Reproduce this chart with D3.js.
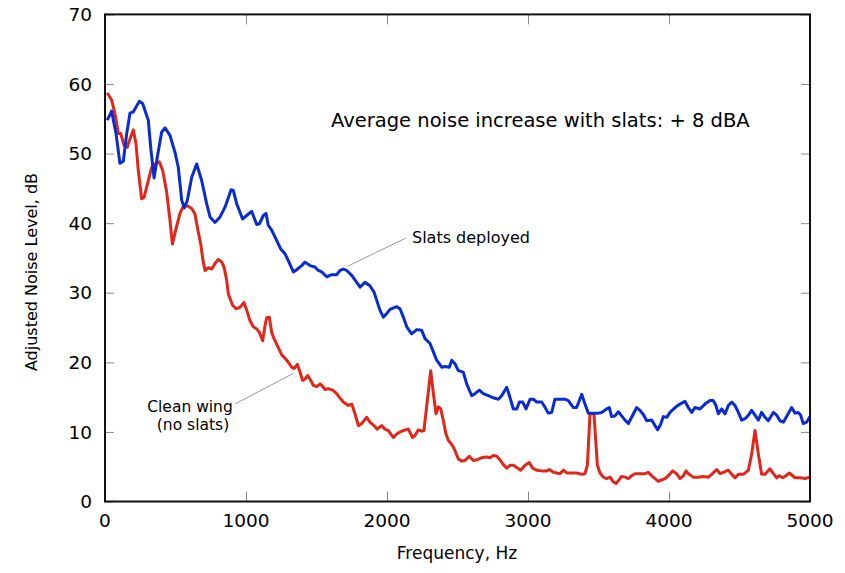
<!DOCTYPE html>
<html><head><meta charset="utf-8">
<script src="https://cdn.jsdelivr.net/npm/d3@7"></script>
<style>body{margin:0;background:#fff}svg{display:block}text{font-family:"DejaVu Sans",sans-serif;fill:#000}</style>
</head><body><svg id="c" width="845" height="573"></svg>
<script>
const xTicks=[0,1000,2000,3000,4000,5000];
const yTicks=[0,10,20,30,40,50,60,70];
const slatsFreq=[16,47,78,106,130,154,177,201,243,267,307,324,348,371,402,426,461,496,520,544,563,584,615,650,686,721,745,780,816,851,894,910,934,976,1005,1040,1076,1095,1123,1142,1158,1182,1218,1246,1277,1300,1336,1359,1395,1418,1454,1489,1513,1537,1572,1608,1643,1667,1690,1714,1750,1785,1809,1844,1879,1908,1927,1950,1974,1998,2021,2069,2092,2116,2140,2175,2211,2246,2270,2305,2329,2352,2388,2411,2442,2459,2482,2506,2541,2565,2601,2624,2655,2683,2719,2754,2790,2813,2849,2861,2896,2920,2939,2962,2986,3014,3038,3061,3097,3113,3144,3168,3191,3227,3262,3286,3322,3345,3381,3404,3428,3463,3499,3522,3558,3577,3593,3617,3641,3664,3688,3712,3735,3771,3794,3818,3842,3877,3901,3920,3941,3960,3984,4007,4043,4078,4113,4137,4161,4184,4220,4255,4291,4314,4333,4350,4374,4397,4421,4445,4468,4492,4515,4539,4563,4586,4610,4634,4657,4681,4704,4740,4764,4787,4811,4839,4870,4894,4917,4934,4952,4976,5000];
const slatsDb=[54.8,56.1,52.9,48.6,48.9,52.9,55.8,56.0,57.5,57.2,54.8,50.9,46.5,49.5,53.1,53.7,52.6,50.2,48.0,43.3,42.2,43.3,46.6,48.5,46.1,42.8,40.9,40.1,40.9,42.3,44.8,44.7,42.8,40.6,41.1,41.7,39.8,39.9,41.1,41.4,39.7,39.0,37.5,36.3,35.6,34.6,33.0,33.3,33.9,34.4,33.9,33.7,33.2,33.0,32.3,32.6,32.6,33.2,33.4,33.2,32.5,31.5,30.8,31.5,31.0,30.1,28.9,27.5,26.5,27.0,27.6,28.0,27.7,26.5,25.1,24.1,24.7,24.6,23.4,22.7,21.5,20.3,19.3,19.4,19.3,20.3,19.8,18.8,18.6,16.9,15.2,15.5,16.0,15.5,15.2,14.9,14.7,15.2,16.4,15.7,13.3,13.3,14.3,14.3,13.3,14.7,14.7,14.3,14.3,13.8,12.7,12.8,14.7,14.7,14.7,14.5,13.5,13.5,15.4,14.0,12.7,12.7,12.7,12.8,13.3,13.5,12.2,12.3,12.9,12.3,11.7,11.2,12.1,13.5,13.1,12.5,11.6,11.7,10.9,10.3,11.1,12.2,12.1,12.8,13.5,14.0,14.4,13.5,12.8,13.5,13.3,14.0,14.5,14.5,13.8,12.6,13.3,12.6,13.8,14.3,13.8,12.8,11.7,11.9,12.4,13.1,12.4,11.7,12.8,12.1,11.6,12.8,12.4,11.6,11.4,12.4,13.5,12.7,12.8,12.4,11.2,11.4,12.2];
const cleanFreq=[16,47,71,95,111,135,158,177,201,220,236,260,277,307,331,355,385,409,437,461,478,504,532,555,584,615,638,662,679,693,709,733,757,780,804,828,844,863,875,905,929,957,986,1005,1028,1052,1076,1095,1118,1135,1147,1165,1182,1199,1222,1253,1289,1324,1340,1364,1383,1402,1418,1437,1459,1477,1501,1525,1537,1560,1584,1615,1643,1662,1690,1726,1750,1773,1797,1821,1856,1879,1908,1931,1962,1986,2009,2045,2069,2092,2116,2151,2182,2199,2222,2246,2262,2281,2310,2329,2348,2364,2381,2400,2418,2435,2466,2482,2506,2530,2553,2584,2612,2641,2671,2707,2730,2754,2778,2801,2825,2849,2872,2896,2920,2948,2979,3009,3033,3061,3097,3133,3151,3180,3204,3227,3251,3274,3298,3322,3345,3381,3404,3421,3440,3468,3492,3511,3534,3558,3582,3605,3624,3641,3664,3688,3712,3735,3759,3794,3830,3853,3877,3901,3924,3948,3972,3995,4026,4054,4078,4102,4121,4137,4172,4208,4243,4279,4303,4338,4362,4385,4421,4445,4468,4492,4527,4563,4586,4610,4634,4657,4681,4716,4740,4764,4782,4806,4830,4853,4877,4894,4929,4965,5000];
const cleanDb=[58.7,57.7,55.7,52.9,52.9,51.2,50.9,52.1,53.4,51.4,47.6,43.5,43.7,46.1,48.0,48.5,48.8,47.6,44.5,40.4,37.0,39.2,41.4,42.4,42.5,42.1,41.3,38.7,37.0,34.9,33.2,33.6,33.4,34.2,34.8,34.4,33.7,31.8,29.8,28.2,27.7,27.9,28.6,27.5,26.0,25.1,24.8,24.3,23.1,25.3,26.4,26.5,24.3,23.4,22.4,21.1,20.3,19.3,19.1,19.7,18.6,17.4,17.6,18.1,17.4,16.7,16.5,16.9,16.7,16.1,16.2,16.0,15.5,15.0,14.3,13.8,14.0,12.6,10.9,11.2,12.1,11.4,10.9,10.4,10.9,10.4,10.2,9.2,9.7,10.0,10.2,10.4,9.2,9.5,10.3,10.1,10.2,13.6,18.8,15.5,12.6,13.6,13.3,11.6,9.7,8.8,8.0,7.3,6.1,5.8,5.9,6.5,5.9,6.0,6.3,6.4,6.3,6.6,6.5,6.0,5.3,4.8,5.2,5.2,4.9,4.5,5.2,5.6,4.8,4.5,4.4,4.4,4.6,4.2,4.1,4.0,4.5,4.1,4.1,4.1,4.1,3.9,4.0,5.2,12.6,12.6,5.2,4.1,3.5,3.3,3.5,2.8,2.6,3.0,3.6,3.5,3.3,3.7,4.0,4.0,4.0,4.2,3.7,3.3,2.9,3.1,3.3,3.7,4.4,4.0,3.3,3.7,4.4,4.0,3.5,3.5,3.6,3.5,3.9,4.6,4.0,4.2,4.5,3.9,3.4,3.9,3.9,4.5,6.8,10.2,6.8,3.9,3.9,4.7,4.0,3.4,3.7,3.4,3.7,4.1,3.7,3.4,3.4,3.3,3.5];
const titleText="Average noise increase with slats: + 8 dBA";
const xTitle="Frequency, Hz", yTitle="Adjusted Noise Level, dB";
const labelSlats="Slats deployed", labelClean=["Clean wing","(no slats)"];

const svg=d3.select("#c");
const L=105,R=810,T=14.4,B=501.5;
const x=d3.scaleLinear().domain([0,5000]).range([L,R]);
const y=d3.scaleLinear().domain([0,70]).range([B,T]);

// ticks (inward)
const g=svg.append("g");
g.append("g").attr("transform",`translate(0,${B})`).call(d3.axisBottom(x).tickValues(xTicks).tickSizeInner(-10).tickSizeOuter(0).tickFormat(""))
 .call(a=>{a.select(".domain").remove();a.selectAll("line").attr("stroke","#8a8a8a");});
g.append("g").attr("transform",`translate(0,${T})`).call(d3.axisTop(x).tickValues(xTicks).tickSizeInner(-10).tickSizeOuter(0).tickFormat(""))
 .call(a=>{a.select(".domain").remove();a.selectAll("line").attr("stroke","#8a8a8a");});
g.append("g").attr("transform",`translate(${L},0)`).call(d3.axisLeft(y).tickValues(yTicks).tickSizeInner(-9).tickSizeOuter(0).tickFormat(""))
 .call(a=>{a.select(".domain").remove();a.selectAll("line").attr("stroke","#8a8a8a");});
g.append("g").attr("transform",`translate(${R},0)`).call(d3.axisRight(y).tickValues(yTicks).tickSizeInner(-9).tickSizeOuter(0).tickFormat(""))
 .call(a=>{a.select(".domain").remove();a.selectAll("line").attr("stroke","#8a8a8a");});

// tick labels
svg.append("g").selectAll("text").data(xTicks).join("text")
 .attr("x",d=>x(d)).attr("y",527).attr("text-anchor","middle").attr("font-size",18.5).text(d=>d);
svg.append("g").selectAll("text").data(yTicks).join("text")
 .attr("x",92).attr("y",d=>y(d)).attr("dy","0.36em").attr("text-anchor","end").attr("font-size",18.5).text(d=>d);

// lines
const line=d3.line().x(d=>x(d[0])).y(d=>y(d[1]));
svg.append("clipPath").attr("id","cp").append("rect").attr("x",L).attr("y",T).attr("width",R-L).attr("height",B-T);
svg.append("path").datum(d3.zip(cleanFreq,cleanDb)).attr("d",line).attr("fill","none")
 .attr("stroke","#e2261a").attr("stroke-width",3).attr("stroke-linejoin","round").attr("clip-path","url(#cp)");
svg.append("path").datum(d3.zip(slatsFreq,slatsDb)).attr("d",line).attr("fill","none")
 .attr("stroke","#0a2bd4").attr("stroke-width",3).attr("stroke-linejoin","round").attr("clip-path","url(#cp)");

// frame
svg.append("rect").attr("x",L).attr("y",T).attr("width",R-L).attr("height",B-T)
 .attr("fill","none").attr("stroke","#111").attr("stroke-width",2);

// annotations
svg.append("text").attr("x",331).attr("y",127).attr("font-size",19.5).text(titleText);
svg.append("line").attr("x1",x(1720)).attr("y1",y(33.8)).attr("x2",406).attr("y2",238).attr("stroke","#999").attr("stroke-width",1);
svg.append("text").attr("x",412).attr("y",243).attr("font-size",16).text(labelSlats);
svg.append("line").attr("x1",235).attr("y1",404).attr("x2",x(1335)).attr("y2",y(18.4)).attr("stroke","#999").attr("stroke-width",1);
svg.append("text").attr("x",190).attr("y",412).attr("text-anchor","middle").attr("font-size",15.5).text(labelClean[0]);
svg.append("text").attr("x",193).attr("y",430).attr("text-anchor","middle").attr("font-size",15.5).text(labelClean[1]);

// axis titles
svg.append("text").attr("x",457).attr("y",559).attr("text-anchor","middle").attr("font-size",17).text(xTitle);
svg.append("text").attr("transform","translate(31,272) rotate(-90)").attr("dy","0.35em").attr("text-anchor","middle").attr("font-size",16).text(yTitle);
</script></body></html>
